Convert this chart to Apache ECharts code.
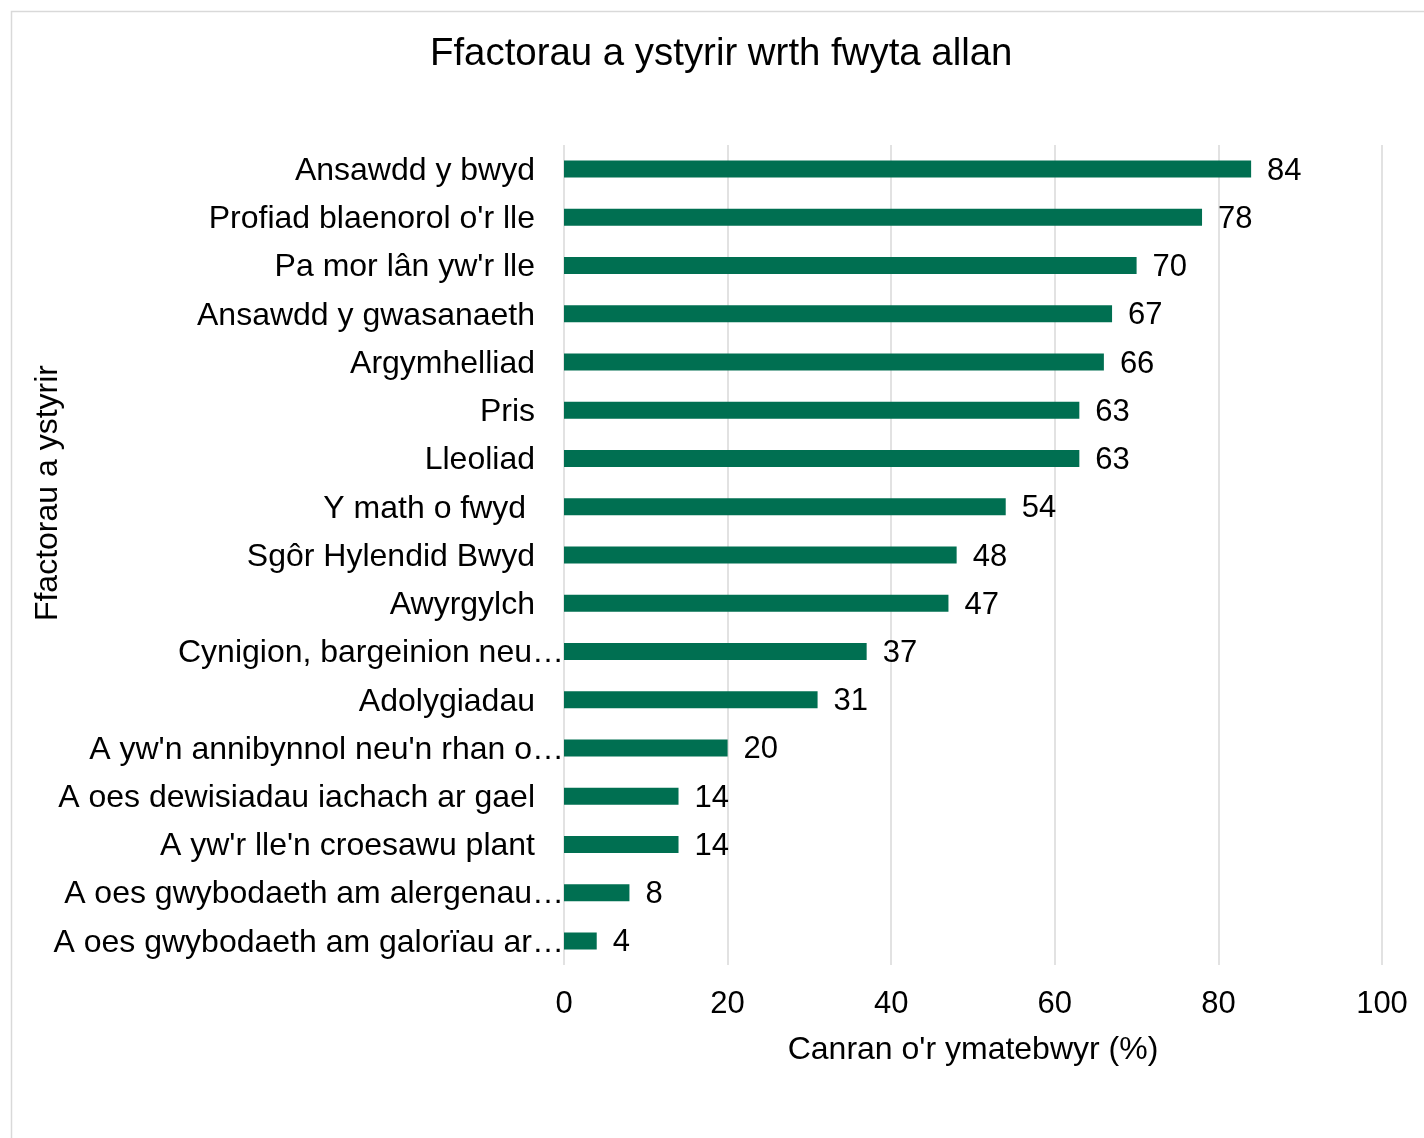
<!DOCTYPE html>
<html>
<head>
<meta charset="utf-8">
<script src="https://cdn.jsdelivr.net/npm/echarts@6/dist/echarts.min.js"></script>
<style>html,body{margin:0;padding:0;background:#fff;}#chart{width:1424px;height:1138px;}</style>
</head>
<body>
<div id="chart"></div>
<script>
const categories = [
  "Ansawdd y bwyd",
  "Profiad blaenorol o'r lle",
  "Pa mor lân yw'r lle",
  "Ansawdd y gwasanaeth",
  "Argymhelliad",
  "Pris",
  "Lleoliad",
  "Y math o fwyd ",
  "Sgôr Hylendid Bwyd",
  "Awyrgylch",
  "Cynigion, bargeinion neu…",
  "Adolygiadau",
  "A yw'n annibynnol neu'n rhan o…",
  "A oes dewisiadau iachach ar gael",
  "A yw'r lle'n croesawu plant",
  "A oes gwybodaeth am alergenau…",
  "A oes gwybodaeth am galorïau ar…"
];
const values = [84, 78, 70, 67, 66, 63, 63, 54, 48, 47, 37, 31, 20, 14, 14, 8, 4];
const xTicks = [0, 20, 40, 60, 80, 100];
const titleText = "Ffactorau a ystyrir wrth fwyta allan";
const xAxisName = "Canran o'r ymatebwyr (%)";
const yAxisName = "Ffactorau a ystyrir";

const FONT = '"Liberation Sans", Arial, sans-serif';
const chart = echarts.init(document.getElementById('chart'), null, {renderer: 'canvas'});
chart.setOption({
  backgroundColor: '#fff',
  animation: false,
  title: {
    text: titleText,
    left: 430, top: 35, padding: 0,
    textStyle: {fontFamily: FONT, fontSize: 38.4, fontWeight: 'normal', color: '#000'}
  },
  graphic: [
    {type: 'rect', left: 9, top: 9, shape: {width: 1500, height: 1200}, style: {fill: 'none', stroke: '#D9D9D9', lineWidth: 1.5}, silent: true},
    {type: 'text', left: 32, top: 365, rotation: Math.PI / 2, style: {text: yAxisName, font: '32px ' + FONT, fill: '#000'}, silent: true}
  ],
  grid: {left: 564, right: 42, top: 145, bottom: 173, containLabel: false},
  xAxis: {
    type: 'value', min: 0, max: 100, interval: 20,
    name: xAxisName, nameLocation: 'middle', nameGap: 69,
    nameTextStyle: {fontFamily: FONT, fontSize: 32, color: '#000'},
    axisLine: {show: false}, axisTick: {show: false},
    axisLabel: {fontFamily: FONT, fontSize: 31, color: '#000', margin: 24,
      formatter: v => xTicks.includes(v) ? String(v) : ''},
    splitLine: {show: true, lineStyle: {color: '#D9D9D9', width: 1.5}}
  },
  yAxis: {
    type: 'category', data: categories, inverse: true,
    axisLine: {show: false}, axisTick: {show: false},
    axisLabel: {
      fontFamily: FONT, fontSize: 32, color: '#000', margin: 0,
      formatter: v => v.endsWith('…') ? '{t|' + v + '}' : '{n|' + v + '}',
      rich: {
        t: {fontFamily: FONT, fontSize: 32, color: '#000', padding: [4, 0, 0, 4]},
        n: {fontFamily: FONT, fontSize: 32, color: '#000', padding: [4, 29, 0, 0]}
      }
    }
  },
  series: [{
    type: 'bar', data: values, barWidth: 17,
    itemStyle: {color: '#006F51'},
    label: {show: true, position: 'right', distance: 16, offset: [0, 2], fontFamily: FONT, fontSize: 31, color: '#000'}
  }]
});
</script>
</body>
</html>
